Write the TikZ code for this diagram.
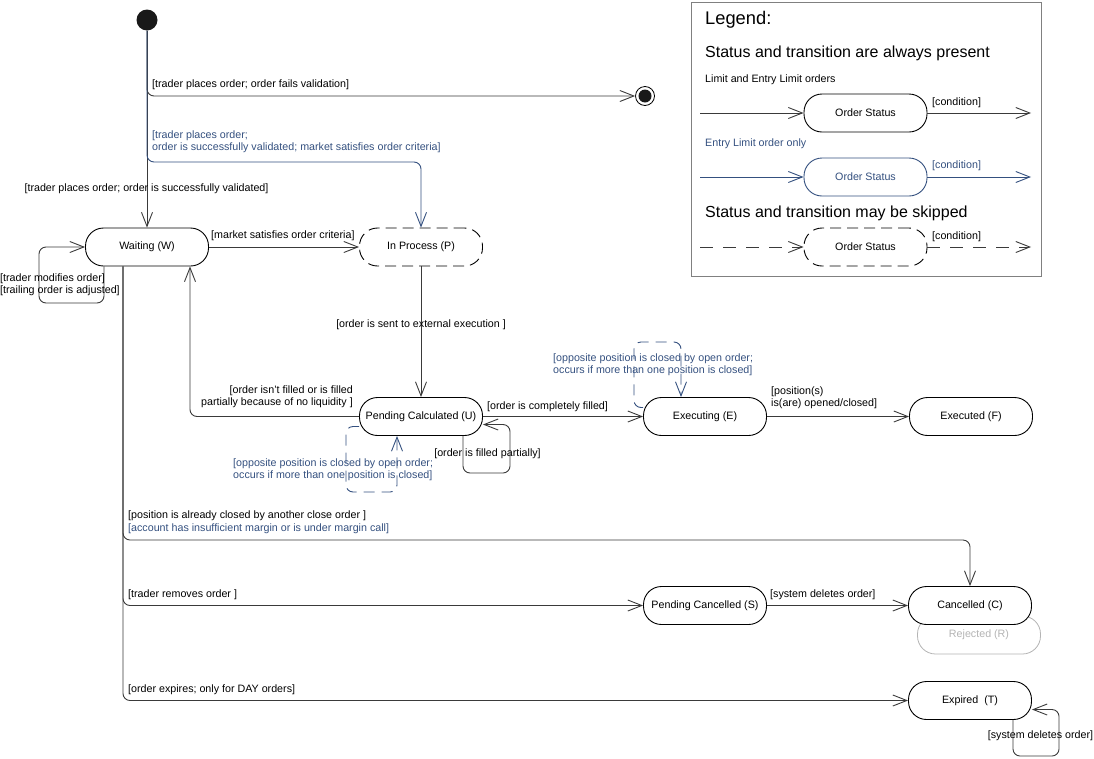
\documentclass[tikz,border=0pt]{standalone}
\usepackage{fontspec}
\setmainfont{Liberation Sans}
\usetikzlibrary{arrows.meta}
\definecolor{ublue}{HTML}{34507F}
\definecolor{lcol}{HTML}{3A3A3A}
\definecolor{rgray}{HTML}{B4B4B4}
\begin{document}
\begin{tikzpicture}[x=1pt,y=-1pt,
  every node/.style={font=\fontsize{10.7}{12}\selectfont},
  stbox/.style={draw=black, line width=0.9pt, rounded corners=18pt, minimum width=123pt, minimum height=38pt, fill=white, inner sep=0pt},
  dbox/.style={stbox, dash pattern=on 11pt off 6pt},
  lbl/.style={inner sep=0pt, text=black},
  blbl/.style={inner sep=0pt, text=ublue},
  conn/.style={draw=lcol, line width=0.9pt, -{Straight Barb[length=14pt,width=11pt]}, rounded corners=7pt},
  bconn/.style={conn, draw=ublue},
  dconn/.style={bconn, dash pattern=on 11pt off 7pt},
  gdconn/.style={conn, dash pattern=on 13pt off 10pt}
]
\useasboundingbox (0,0) rectangle (1094,758);

% ---------------- states ----------------
\node[circle, fill=black!90, minimum size=21pt, inner sep=0pt] (init) at (147,20) {};
\node[circle, draw=black, line width=0.8pt, minimum size=19pt, inner sep=0pt] (fin) at (645,96) {};
\fill[black!90] (fin.center) circle[radius=6.5pt];

\node[stbox] (W) at (147,247) {Waiting (W)};
\node[dbox] (P) at (421,247) {In Process (P)};
\node[stbox] (U) at (421,416.5) {Pending Calculated (U)};
\node[stbox] (E) at (705,416.5) {Executing (E)};
\node[stbox] (F) at (971,416.5) {Executed (F)};
\node[stbox] (S) at (705,605.5) {Pending Cancelled (S)};
\node[stbox, draw=rgray, line width=0.8pt, text=rgray] (R) at (979,635) {Rejected (R)};
\node[stbox] (C) at (970,605.5) {Cancelled (C)};
\node[stbox] (T) at (970,700.5) {Expired~~(T)};

% ---------------- transitions ----------------
\draw[conn] (init) -- (W);
\node[lbl] (l1) at (146.5,189) {[trader places order; order is successfully validated]};

\draw[conn] (init.south) |- (fin.west);
\node[lbl, anchor=west] (l2) at (152,85) {[trader places order; order fails validation]};

\coordinate (bp) at (P.north |- 0,162);
\draw[bconn] (init.south) |- (bp) -- (P.north);
\node[blbl, anchor=west, align=left] (l3) at (152,142) {[trader places order;\\order is successfully validated; market satisfies order criteria]};

\draw[conn] (W) -- (P);
\node[lbl, anchor=west] (l4) at (211,236) {[market satisfies order criteria]};

\coordinate (wl) at ([xshift=-43pt]W.south);
\coordinate (wlb) at (39,303);
\draw[conn] (wl) |- (wlb) |- (W.west);
\node[lbl, anchor=west, align=left] (l5) at (0,284.5) {[trader modifies order]\\[0pt][trailing order is adjusted]};

\coordinate (wd) at ([xshift=-24pt]W.south);
\coordinate (cb) at (C.north |- 0,540);
\draw[conn] (wd) |- (cb) -- (C.north);
\node[lbl, anchor=west] (l6) at (128,516) {[position is already closed by another close order ]};
\node[blbl, anchor=west] (l7) at (128,529) {[account has insufficient margin or is under margin call]};

\draw[conn] (wd) |- (S.west);
\node[lbl, anchor=west] (l8) at (128,595) {[trader removes order ]};

\draw[conn] (wd) |- (T.west);
\node[lbl, anchor=west] (l9) at (128,690) {[order expires; only for DAY orders]};

\draw[conn] (P) -- (U);
\node[lbl] (l10) at (421,325) {[order is sent to external execution ]};

\draw[conn] (U.west) -| ([xshift=43pt]W.south);
\node[lbl, anchor=east, align=right] (l11) at (353,397) {[order isn’t filled or is filled\\[0pt]partially because of no liquidity ]};

\draw[conn] (U) -- (E);
\node[lbl, anchor=west] (l12) at (487,407) {[order is completely filled]};

\coordinate (ulb) at (510,473);
\draw[conn] ([xshift=42pt]U.south) |- (ulb) |- ([yshift=-8pt]U.east);
\node[lbl] (l13) at (487.5,454) {[order is filled partially]};

\coordinate (udb) at (346,492);
\draw[dconn] ([yshift=-10pt]U.west) -| (udb) -| ([xshift=-24pt]U.south);
\node[blbl, anchor=west, align=left] (l14) at (233,470) {[opposite position is closed by open order;\\[0pt]occurs if more than one position is closed]};

\coordinate (edb) at (634,342);
\draw[dconn] ([yshift=9pt]E.west) -| (edb) -| ([xshift=-24pt]E.north);
\node[blbl, anchor=west, align=left] (l15) at (553,365) {[opposite position is closed by open order;\\[0pt]occurs if more than one position is closed]};

\draw[conn] (E) -- (F);
\node[lbl, anchor=west, align=left] (l16) at (771,398) {[position(s)\\[0pt]is(are) opened/closed]};

\draw[conn] (S) -- (C);
\node[lbl, anchor=west] (l17) at (770,595) {[system deletes order]};

\coordinate (tlb) at (1059,756);
\draw[conn] ([xshift=43pt]T.south) |- (tlb) |- ([yshift=-9pt]T.east);
\node[lbl] (l18) at (1040.5,736) {[system deletes order]};

% ---------------- legend ----------------
\node[draw=gray, line width=1.2pt, minimum width=350pt, minimum height=274pt, inner sep=0pt, anchor=north west] (leg) at (691,2) {};
\node[lbl, anchor=west, font=\fontsize{18.3}{20}\selectfont] (lg1) at (705,20) {Legend:};
\node[lbl, anchor=west, font=\fontsize{16}{18}\selectfont] (lg2) at (705,53) {Status and transition are always present};
\node[lbl, anchor=west] (lg3) at (705,80) {Limit and Entry Limit orders};
\node[stbox] (L1) at (865.5,113) {Order Status};
\coordinate (L1a) at (700,113);
\coordinate (L1b) at (1031,113);
\draw[conn] (L1a) -- (L1);
\draw[conn] (L1) -- (L1b);
\node[lbl, anchor=west] (lc1) at (932,103) {[condition]};

\node[blbl, anchor=west] (lg4) at (705,144) {Entry Limit order only};
\node[stbox, draw=ublue, text=ublue] (L2) at (865.5,177) {Order Status};
\coordinate (L2a) at (700,177);
\coordinate (L2b) at (1031,177);
\draw[bconn] (L2a) -- (L2);
\draw[bconn] (L2) -- (L2b);
\node[blbl, anchor=west] (lc2) at (932,166) {[condition]};

\node[lbl, anchor=west, font=\fontsize{16}{18}\selectfont] (lg5) at (705,213) {Status and transition may be skipped};
\node[dbox] (L3) at (865.5,247) {Order Status};
\coordinate (L3a) at (700,247);
\coordinate (L3b) at (1031,247);
\draw[gdconn] (L3a) -- (L3);
\draw[gdconn] (L3) -- (L3b);
\node[lbl, anchor=west] (lc3) at (932,237) {[condition]};
\end{tikzpicture}
\end{document}
